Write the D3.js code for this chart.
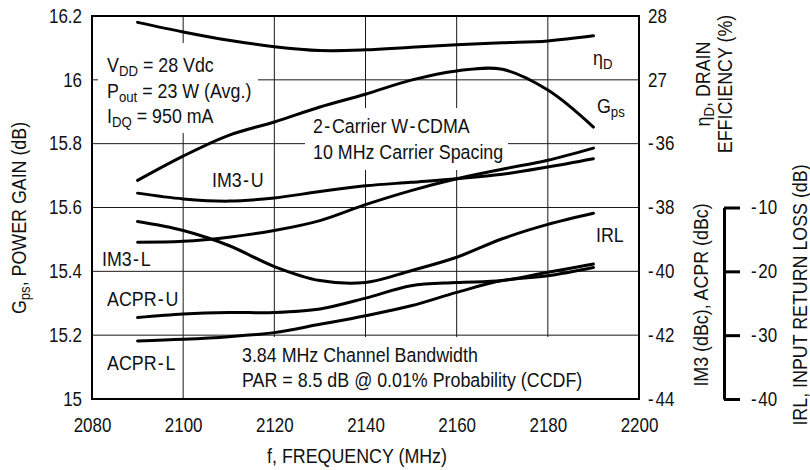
<!DOCTYPE html>
<html>
<head>
<meta charset="utf-8">
<style>
  body { margin: 0; background: #fff; }
  svg { display: block; }
  text { font-family: "Liberation Sans", Arial, sans-serif; fill: #111; }
</style>
<script src="https://d3js.org/d3.v7.min.js"></script>
</head>
<body>
<script>
  // values, 10 MHz steps
  const freq  = [2090, 2100, 2110, 2120, 2130, 2140, 2150, 2160, 2170, 2180, 2190];
  const gps   = [15.685, 15.761, 15.826, 15.868, 15.915, 15.955, 15.999, 16.028, 16.033, 15.968, 15.852];
  const eff   = [27.90, 27.75, 27.62, 27.52, 27.46, 27.47, 27.51, 27.55, 27.58, 27.61, 27.69];
  const im3U  = [-37.55, -37.73, -37.80, -37.70, -37.50, -37.32, -37.21, -37.10, -36.96, -36.73, -36.47];
  const im3L  = [-39.09, -39.06, -38.93, -38.72, -38.41, -37.91, -37.47, -37.10, -36.80, -36.52, -36.14];
  const acprU = [-41.45, -41.34, -41.29, -41.29, -41.18, -40.84, -40.45, -40.35, -40.29, -40.03, -39.77];
  const acprL = [-42.18, -42.13, -42.05, -41.92, -41.66, -41.39, -41.08, -40.66, -40.29, -40.14, -39.88];
  const irl   = [-12.2, -13.6, -15.95, -19.25, -21.45, -21.75, -19.9, -17.8, -14.9, -12.65, -10.9];

  const xTicks    = [2080, 2100, 2120, 2140, 2160, 2180, 2200];
  const gainTicks = [15, 15.2, 15.4, 15.6, 15.8, 16, 16.2];
  const effTicks  = [27, 28];
  const dbcTicks  = [-44, -42, -40, -38, -36];
  const irlTicks  = [-40, -30, -20, -10];

  const W = 810, H = 470;
  const pLeft = 92, pRight = 639, pTop = 16, pBottom = 399;
  const tickFont = 19.5, textFont = 20.5;
  const squeeze = 0.87; // the datasheet face is a condensed sans

  const svg = d3.select('body').append('svg')
    .attr('width', W)
    .attr('height', H);

  const x = d3.scaleLinear().domain([2080, 2200]).range([pLeft, pRight]);
  const yGain = d3.scaleLinear().domain([15, 16.2]).range([pBottom, pTop]);
  const yEff = d3.scaleLinear().domain([22, 28]).range([pBottom, pTop]);
  const yDbc = d3.scaleLinear().domain([-44, -32]).range([pBottom, pTop]);
  const yIrl = d3.scaleLinear().domain([-40, 20]).range([pBottom, pTop]);

  // grid
  const grid = svg.append('g').attr('stroke', '#1a1a1a').attr('stroke-width', 1);
  grid.selectAll('.gv').data(xTicks.slice(1, -1)).join('line')
    .attr('x1', d => x(d)).attr('x2', d => x(d))
    .attr('y1', pTop).attr('y2', pBottom);
  grid.selectAll('.gh').data(gainTicks.slice(1, -1)).join('line')
    .attr('x1', pLeft).attr('x2', pRight)
    .attr('y1', d => yGain(d)).attr('y2', d => yGain(d));

  // white boxes behind the notes break the grid
  const boxes = [[98, 43, 160, 90], [305, 108, 203, 62], [235, 337, 352, 61]];
  svg.append('g').selectAll('rect').data(boxes).join('rect')
    .attr('x', d => d[0]).attr('y', d => d[1])
    .attr('width', d => d[2]).attr('height', d => d[3])
    .attr('fill', '#fff');

  // curves
  const curves = [
    [gps, yGain], [eff, yEff], [im3U, yDbc], [im3L, yDbc],
    [acprU, yDbc], [acprL, yDbc], [irl, yIrl]
  ];
  curves.forEach(([vals, sc]) => {
    const line = d3.line()
      .x((d, i) => x(freq[i]))
      .y(d => sc(d))
      .curve(d3.curveCatmullRom.alpha(0.5));
    svg.append('path')
      .attr('d', line(vals))
      .attr('fill', 'none')
      .attr('stroke', '#000')
      .attr('stroke-width', 3)
      .attr('stroke-linecap', 'round');
  });

  // frame
  svg.append('rect')
    .attr('x', pLeft).attr('y', pTop)
    .attr('width', pRight - pLeft).attr('height', pBottom - pTop)
    .attr('fill', 'none').attr('stroke', '#000').attr('stroke-width', 2);

  // hyphens in the datasheet font sit with a little air around them
  function spacedHyphens(t, s) {
    const bits = s.split('-');
    let first = null;
    bits.forEach((b, i) => {
      if (i > 0) t.append('tspan').attr('dx', 1.5).text('-');
      const sp = t.append('tspan').text(b);
      if (i > 0) sp.attr('dx', 2);
      if (!first) first = sp;
    });
    return first;
  }

  function styleAxis(g) {
    g.attr('font-family', null).attr('font-size', null);
    g.selectAll('text')
      .style('font-size', tickFont + 'px')
      .attr('transform', `scale(${squeeze},1)`)
      .each(function () {
        const s = this.textContent;
        if (s.startsWith('-')) {
          const t = d3.select(this).text(null);
          t.append('tspan').text('-');
          t.append('tspan').attr('dx', 2).text(s.slice(1));
        }
      });
  }

  const fmt = d => String(+d.toFixed(1));

  svg.append('g').attr('transform', `translate(${pLeft},0)`)
    .call(d3.axisLeft(yGain).tickValues(gainTicks).tickSize(0).tickPadding(11.5).tickFormat(fmt))
    .call(g => g.select('.domain').remove())
    .call(styleAxis);

  svg.append('g').attr('transform', `translate(0,${pBottom})`)
    .call(d3.axisBottom(x).tickValues(xTicks).tickSize(0).tickPadding(19).tickFormat(d3.format('d')))
    .call(g => g.select('.domain').remove())
    .call(styleAxis);

  svg.append('g').attr('transform', `translate(${pRight},0)`)
    .call(d3.axisRight(yEff).tickValues(effTicks).tickSize(0).tickPadding(10.5).tickFormat(fmt))
    .call(g => g.select('.domain').remove())
    .call(styleAxis);

  svg.append('g').attr('transform', `translate(${pRight},0)`)
    .call(d3.axisRight(yDbc).tickValues(dbcTicks).tickSize(0).tickPadding(10.5).tickFormat(d => String(d)))
    .call(g => g.select('.domain').remove())
    .call(styleAxis);

  // IRL bracket axis
  const irlAxisScale = yIrl.copy().domain([-40, -10]).range([yIrl(-40), yIrl(-10)]);
  svg.append('g').attr('transform', 'translate(724,0)')
    .call(d3.axisRight(irlAxisScale).tickValues(irlTicks).tickSize(16).tickSizeOuter(0).tickPadding(15).tickFormat(d => String(d)))
    .call(g => g.selectAll('line, path').attr('stroke', '#000').attr('stroke-width', 3))
    .call(styleAxis);

  // rich text helper: parts = [[string, isSub], ...]
  function rich(parent, xPos, yPos, parts, size, anchor) {
    const t = parent.append('g')
      .attr('transform', `translate(${xPos},${yPos}) scale(${squeeze},1)`)
      .append('text')
      .attr('text-anchor', anchor || 'start')
      .style('font-size', size + 'px');
    let shifted = false;
    parts.forEach(([s, sub]) => {
      if (sub) {
        const sp = t.append('tspan').text(s).style('font-size', (size * 0.74) + 'px');
        if (!shifted) { sp.attr('dy', 4); shifted = true; }
      } else {
        const sp = spacedHyphens(t, s);
        if (shifted) { sp.attr('dy', -4); shifted = false; }
      }
    });
    return t;
  }

  const notes = svg.append('g');
  rich(notes, 107, 72, [['V'], ['DD', 1], [' = 28 Vdc']], textFont);
  rich(notes, 107, 98, [['P'], ['out', 1], [' = 23 W (Avg.)']], textFont);
  rich(notes, 107, 123, [['I'], ['DQ', 1], [' = 950 mA']], textFont);
  rich(notes, 313, 133, [['2-Carrier W-CDMA']], textFont);
  rich(notes, 313, 159, [['10 MHz Carrier Spacing']], textFont);
  rich(notes, 212, 187, [['IM3-U']], textFont);
  rich(notes, 102, 266, [['IM3-L']], textFont);
  rich(notes, 107, 306, [['ACPR-U']], textFont);
  rich(notes, 107, 370, [['ACPR-L']], textFont);
  rich(notes, 242, 362, [['3.84 MHz Channel Bandwidth']], textFont);
  rich(notes, 242, 387, [['PAR = 8.5 dB @ 0.01% Probability (CCDF)']], textFont);
  rich(notes, 593, 65, [['\u03b7'], ['D', 1]], textFont);
  rich(notes, 597, 113, [['G'], ['ps', 1]], textFont);
  rich(notes, 596, 242, [['IRL']], textFont);

  // axis titles
  rich(svg, 357, 463, [['f, FREQUENCY (MHz)']], textFont, 'middle');

  const yTitle = svg.append('g').attr('transform', 'translate(26,218) rotate(-90)');
  rich(yTitle, 0, 0, [['G'], ['ps', 1], [',  POWER GAIN (dB)']], textFont, 'middle');

  const effTitle = svg.append('g').attr('transform', 'translate(710,84) rotate(-90)');
  rich(effTitle, 0, 0, [['\u03b7'], ['D', 1], [', DRAIN']], textFont, 'middle');
  rich(effTitle, 0, 22, [['EFFICIENCY (%)']], textFont, 'middle');

  const dbcTitle = svg.append('g').attr('transform', 'translate(708,295) rotate(-90)');
  rich(dbcTitle, 0, 0, [['IM3 (dBc), ACPR (dBc)']], textFont, 'middle');

  const irlTitle = svg.append('g').attr('transform', 'translate(807,295) rotate(-90)');
  rich(irlTitle, 0, 0, [['IRL,  INPUT RETURN LOSS (dB)']], textFont, 'middle');
</script>
</body>
</html>
